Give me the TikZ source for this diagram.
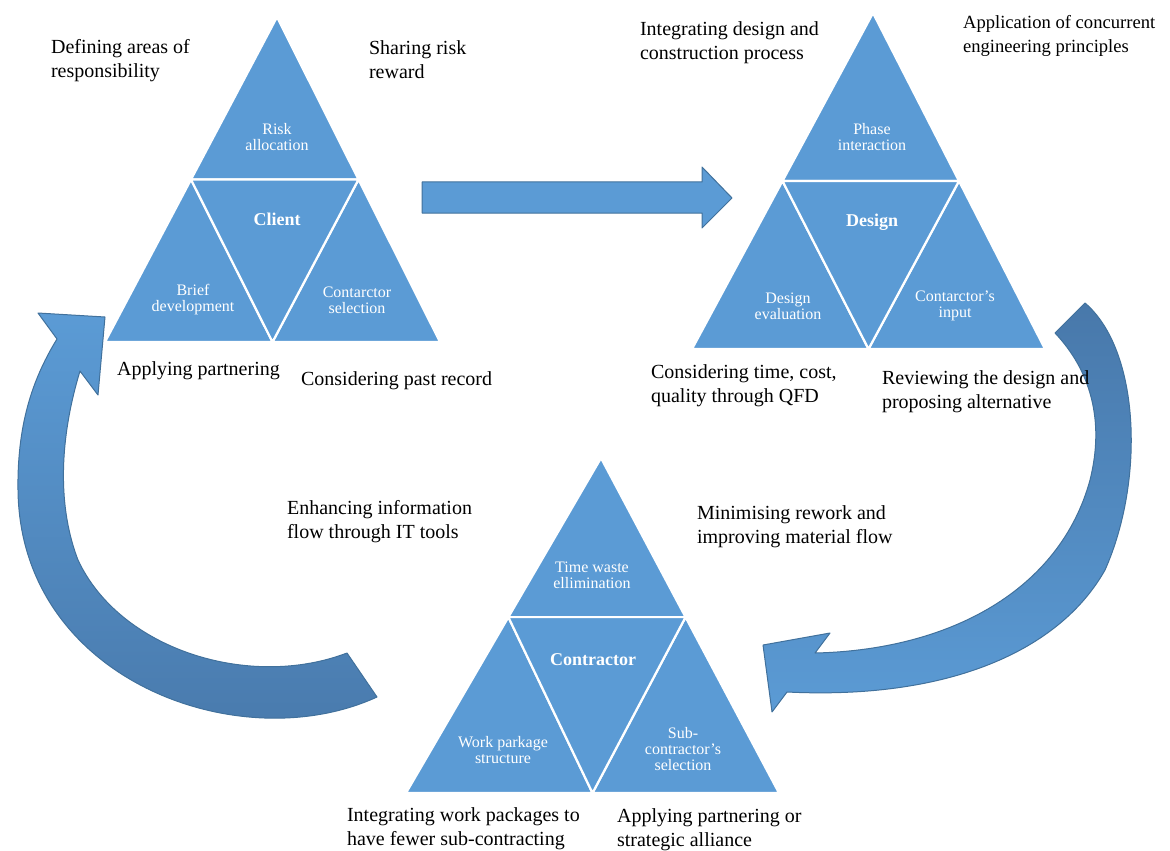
\documentclass[tikz,border=0pt]{standalone}
\usepackage{fontspec}
\setmainfont{Liberation Serif}
\usetikzlibrary{calc}

\definecolor{triblue}{HTML}{5B9BD5}
\definecolor{edgeblue}{HTML}{41719C}
\definecolor{shadeblue}{HTML}{4878AA}

\tikzset{
  part/.style={fill=triblue,draw=white,line width=1.1pt,line join=round},
  bend arrow/.style={draw=edgeblue,line width=0.5pt,line join=round},
  inlabel/.style={text=white,align=center,font=\fontsize{8}{8}\selectfont},
  hub/.style={text=white,font=\bfseries\fontsize{9}{10}\selectfont},
  note/.style={anchor=west,align=left,font=\fontsize{10}{12}\selectfont}
}

\begin{document}
\begin{tikzpicture}[x=0.5pt,y=-0.5pt]

\useasboundingbox (0,0) rectangle (1170,850);

\coordinate (C-top) at (277,17);
\coordinate (C-left) at (105,342);
\coordinate (C-right) at (440,342);

\coordinate (D-top) at (873,13);
\coordinate (D-left) at (692,349);
\coordinate (D-right) at (1045,349);

\coordinate (K-top) at (601,458);
\coordinate (K-left) at (406,793);
\coordinate (K-right) at (779,793);

\foreach \t/\f in {C/0.5,D/0.5,K/0.475}{
  \coordinate (\t-ml) at ($(\t-top)!\f!(\t-left)$);
  \coordinate (\t-mr) at ($(\t-top)!\f!(\t-right)$);
  \coordinate (\t-mb) at ($(\t-left)!0.5!(\t-right)$);
  \path[part] (\t-top) -- (\t-ml) -- (\t-mr) -- cycle;
  \path[part] (\t-ml) -- (\t-left) -- (\t-mb) -- cycle;
  \path[part] (\t-mr) -- (\t-mb) -- (\t-right) -- cycle;
  \path[part] (\t-ml) -- (\t-mr) -- (\t-mb) -- cycle;
}

\path[bend arrow,fill=triblue]
(422,182) -- (702,182) -- (702,167) -- (732,198)
-- (702,228) -- (702,213) -- (422,213) -- cycle;

\path[bend arrow,top color=triblue,bottom color=shadeblue]
(377,697) .. controls (240,760) and (20,680) .. (18,490)
.. controls (17,420) and (35,375) .. (57,339)
-- (38,313) -- (105,317) -- (98,395) -- (80,371)
.. controls (62,430) and (55,500) .. (78,560)
.. controls (120,650) and (250,690) .. (347,653) -- cycle;

\path[bend arrow,top color=shadeblue,bottom color=triblue]
(1085,303) .. controls (1140,350) and (1145,480) .. (1105,570)
.. controls (1060,650) and (950,700) .. (787,692)
-- (772,712) -- (763,645) -- (830,633) -- (815,653)
.. controls (950,650) and (1060,590) .. (1090,480)
.. controls (1105,420) and (1090,370) .. (1055,333) -- cycle;

\node[inlabel]
(risk)
at (277,137)
{Risk\\allocation};

\node[hub]
(client)
at (277,219)
{Client};

\node[inlabel]
(brief)
at (193,300)
{Brief\\development};

\node[inlabel]
(csel)
at (357,300)
{Contarctor\\selection};

\node[inlabel]
(phase)
at (872,137)
{Phase\\interaction};

\node[hub]
(design)
at (872,222)
{Design};

\node[inlabel]
(deval)
at (788,306)
{Design\\evaluation};

\node[inlabel]
(cinput)
at (955,306)
{Contarctor's\\input};

\node[inlabel]
(waste)
at (592,575)
{Time waste\\ellimination};

\node[hub]
(contractor)
at (593,660)
{Contractor};

\node[inlabel]
(wps)
at (503,750)
{Work parkage\\structure};

\node[inlabel]
(subsel)
at (683,749)
{Sub-\\contractor's\\selection};

\node[note]
(areas)
at (44,61)
{Defining areas of\\responsibility};

\node[note]
(share)
at (362,60)
{Sharing risk\\reward};

\node[note]
(integ)
at (633,43)
{Integrating design and\\construction process};

\node[note,font=\fontsize{9.3}{12}\selectfont]
(concur)
at (956,36)
{Application of concurrent\\engineering principles};

\node[note]
(partner)
at (110,371)
{Applying partnering};

\node[note]
(past)
at (294,381)
{Considering past record};

\node[note]
(qfd)
at (644,386)
{Considering time, cost,\\quality through QFD};

\node[note]
(review)
at (875,392)
{Reviewing the design and\\proposing alternative};

\node[note]
(itflow)
at (280,522)
{Enhancing information\\flow through IT tools};

\node[note]
(rework)
at (690,527)
{Minimising rework and\\improving material flow};

\node[note]
(packages)
at (340,829)
{Integrating work packages to\\have fewer sub-contracting};

\node[note]
(alliance)
at (610,830)
{Applying partnering or\\strategic alliance};

\end{tikzpicture}
\end{document}
